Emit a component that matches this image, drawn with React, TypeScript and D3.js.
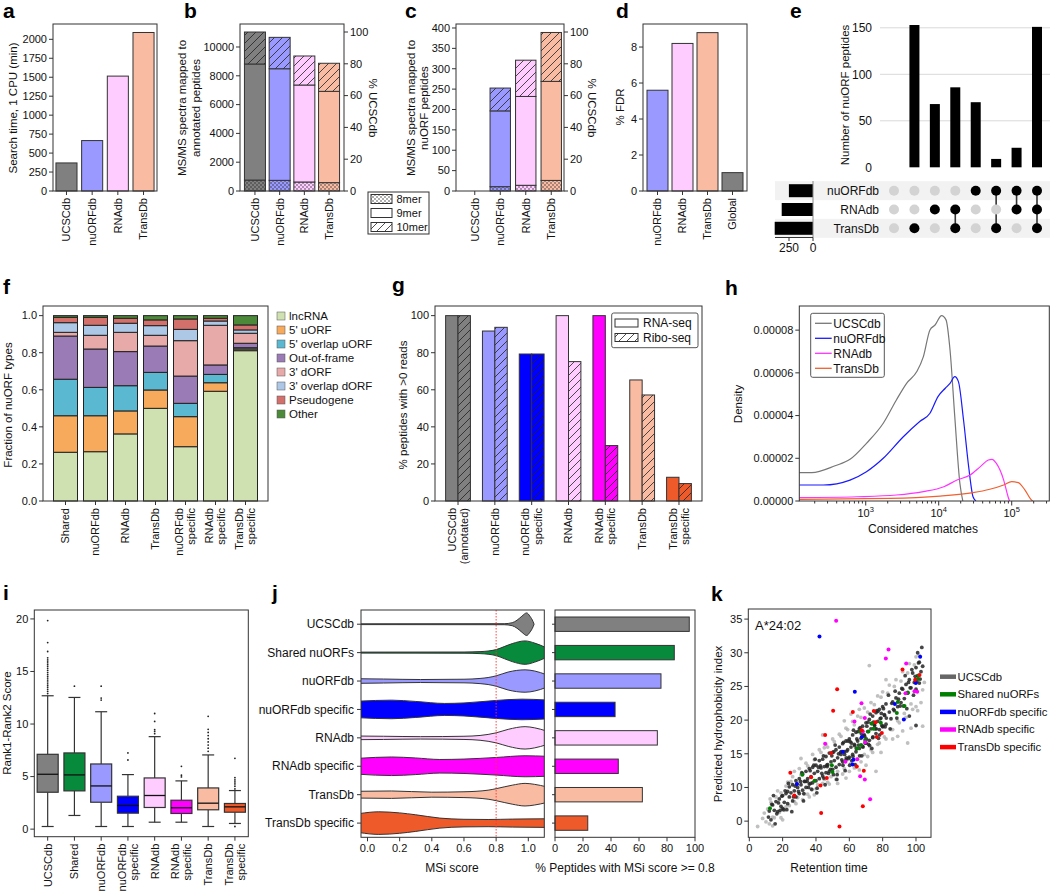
import React from 'react';
import * as d3 from 'd3';

const FONT = "'Liberation Sans', Arial, Helvetica, sans-serif";
const STK = '#333';

// ---------- shared categories / colours ----------
const dbs4 = ['UCSCdb', 'nuORFdb', 'RNAdb', 'TransDb'];
const dbColors4 = ['#808080', '#9999ff', '#ffccff', '#f9bca3'];

// ---------- panel a ----------
const searchTime = [370, 665, 1515, 2090];
const aTicks = [0, 250, 500, 750, 1000, 1250, 1500, 1750, 2000];

// ---------- panel b ----------
const bMer8 = [760, 740, 625, 580];
const bMer9 = [8060, 7750, 6735, 6340];
const bMer10 = [2220, 2180, 2015, 1950];
const bTicks = [0, 2000, 4000, 6000, 8000, 10000];
const pctTicks = [0, 20, 40, 60, 80, 100];

// ---------- panel c ----------
const cMer8 = [0, 10.6, 14, 26];
const cMer9 = [0, 186, 218, 243];
const cMer10 = [0, 56, 89, 120];
const cTicks = [0, 50, 100, 150, 200, 250, 300, 350, 400];

// ---------- panel d ----------
const dCats = ['nuORFdb', 'RNAdb', 'TransDb', 'Global'];
const dFdr = [5.6, 8.2, 8.8, 1.02];
const dColors = ['#9999ff', '#ffccff', '#f9bca3', '#808080'];
const dTicks = [0, 2, 4, 6, 8];

// ---------- panel e ----------
const eSets = ['nuORFdb', 'RNAdb', 'TransDb'];
const eSetSizes = [251, 326, 399];
const eCounts = [0, 153, 68, 86, 70, 9, 21, 151];
const eMembership = [
  [0, 0, 0], [0, 0, 1], [0, 1, 0], [0, 1, 1],
  [1, 0, 0], [1, 0, 1], [1, 1, 0], [1, 1, 1],
];
const eTicks = [0, 50, 100, 150];
const eSizeTicks = [250, 0];

// ---------- panel f ----------
const fCats = ['Shared', 'nuORFdb', 'RNAdb', 'TransDb', 'nuORFdb\nspecific', 'RNAdb\nspecific', 'TransDb\nspecific'];
const fTypes = ['lncRNA', "5' uORF", "5' overlap uORF", 'Out-of-frame', "3' dORF", "3' overlap dORF", 'Pseudogene', 'Other'];
const fTypeColors = ['#cfe1b0', '#f7aa5c', '#5ab9d0', '#9a7bb5', '#e8a9a9', '#adc8e6', '#d4706c', '#4c8a3a'];
const fLnc = [0.263, 0.266, 0.362, 0.5, 0.293, 0.592, 0.811];
const fUorf = [0.197, 0.194, 0.124, 0.099, 0.162, 0.046, 0.009];
const fOvUorf = [0.197, 0.153, 0.136, 0.095, 0.072, 0.045, 0.007];
const fOof = [0.233, 0.207, 0.184, 0.142, 0.147, 0.051, 0.024];
const fDorf = [0.02, 0.074, 0.104, 0.058, 0.191, 0.214, 0.054];
const fOvDorf = [0.052, 0.054, 0.049, 0.052, 0.061, 0.023, 0.018];
const fPseudo = [0.029, 0.043, 0.027, 0.031, 0.056, 0.015, 0.027];
const fOther = [0.009, 0.009, 0.014, 0.023, 0.018, 0.014, 0.05];
const fTicks = [0, 0.2, 0.4, 0.6, 0.8, 1.0];

// ---------- panel g ----------
const gCats = ['UCSCdb\n(annotated)', 'nuORFdb', 'nuORFdb\nspecific', 'RNAdb', 'RNAdb\nspecific', 'TransDb', 'TransDb\nspecific'];
const gRna = [100, 91.7, 79.3, 100, 100, 65.3, 12.8];
const gRibo = [100, 93.7, 79.3, 75.2, 29.9, 57.2, 9.4];
const gColors = ['#808080', '#9999ff', '#0000ff', '#ffccff', '#ff00ff', '#f9bca3', '#ef5a2a'];
const gTicks = [0, 20, 40, 60, 80, 100];

// ---------- panel h (log10 matches, density x 1e-5) ----------
const hNames = ['UCSCdb', 'nuORFdb', 'RNAdb', 'TransDb'];
const hColors = ['#777777', '#1a1aff', '#ff33ff', '#f06030'];
const hUcscLog = [2.09, 2.26, 2.58, 2.785, 3.01, 3.24, 3.42, 3.56, 3.70, 3.79, 3.88, 3.95, 4.04, 4.10, 4.155, 4.22, 4.29, 4.33];
const hUcscDen = [1.33, 1.33, 1.65, 1.95, 2.70, 3.64, 4.73, 5.51, 6.06, 6.76, 8.01, 8.24, 8.68, 8.48, 7.07, 3.95, 0.83, 0.0];
const hNuorfLog = [2.09, 2.42, 2.785, 3.01, 3.24, 3.515, 3.74, 3.88, 3.99, 4.09, 4.155, 4.22, 4.27, 4.34, 4.41, 4.47, 4.51];
const hNuorfDen = [0.75, 0.75, 0.98, 1.37, 2.0, 3.01, 3.72, 4.11, 4.89, 5.28, 5.51, 5.82, 5.59, 3.79, 1.61, 0.2, 0.0];
const hRnaLog = [2.09, 2.88, 3.42, 3.79, 4.07, 4.25, 4.43, 4.57, 4.68, 4.73, 4.79, 4.89, 4.95, 4.97];
const hRnaDen = [0.16, 0.2, 0.28, 0.44, 0.67, 0.98, 1.22, 1.61, 1.92, 1.95, 1.76, 0.98, 0.2, 0.0];
const hTransLog = [2.09, 3.33, 4.02, 4.47, 4.70, 4.89, 5.0, 5.09, 5.18, 5.27, 5.29];
const hTransDen = [0.08, 0.12, 0.23, 0.39, 0.55, 0.75, 0.91, 0.86, 0.52, 0.05, 0.0];
const hTicks = [0, 2, 4, 6, 8];
const hMajor = [1e3, 1e4, 1e5];
const hMajorLabels = ['3', '4', '5'];

// ---------- panel i ----------
const iCats = ['UCSCdb', 'Shared', 'nuORFdb', 'nuORFdb\nspecific', 'RNAdb', 'RNAdb\nspecific', 'TransDb', 'TransDb\nspecific'];
const iColors = ['#808080', '#088a3c', '#9999ff', '#0000ff', '#ffccff', '#ff00ff', '#f9bca3', '#ef5a2a'];
const iLow = [0.25, 1.3, 0.25, 0.25, 0.66, 0.66, 0.25, 0.54];
const iQ1 = [3.51, 3.64, 2.56, 1.52, 2.06, 1.49, 1.84, 1.61];
const iMed = [5.22, 5.16, 4.11, 2.25, 3.2, 2.03, 2.47, 2.12];
const iQ3 = [7.12, 7.25, 6.2, 3.13, 4.87, 2.75, 3.92, 2.44];
const iHigh = [12.69, 12.53, 11.17, 5.19, 8.8, 4.59, 7.06, 3.67];
const iOutliers = [
  [12.9, 13.1, 13.3, 13.5, 13.7, 13.9, 14.1, 14.3, 14.5, 14.7, 14.9, 15.1, 15.3, 15.5, 15.7, 15.9, 16.1, 16.3, 16.9, 17.75, 19.84],
  [13.6],
  [12.28, 12.47, 13.6],
  [6.58, 7.25],
  [9.08, 9.3, 9.46, 10.25, 11.0],
  [4.97, 5.13, 5.98],
  [7.4, 7.7, 8.0, 8.3, 8.6, 8.9, 9.2, 9.5, 10.73],
  [0.25, 3.83, 4.08, 4.3, 4.49, 4.68, 4.9, 6.74],
];
const iTicks = [0, 5, 10, 15, 20];

// ---------- panel j ----------
const jCats = ['UCSCdb', 'Shared nuORFs', 'nuORFdb', 'nuORFdb specific', 'RNAdb', 'RNAdb specific', 'TransDb', 'TransDb specific'];
const jPct = [95.9, 85.2, 75.7, 42.9, 73.1, 45.2, 62.4, 23.4];
// violin outlines: [MSi score, half-width density]
const vUcsc = [[-0.05, 0.4], [0.85, 0.5], [0.9, 1.5], [0.93, 4], [0.96, 8], [0.99, 11.3], [1.01, 8], [1.03, 2.5], [1.036, 0]];
const vShared = [[-0.05, 0.5], [0.6, 0.6], [0.7, 1], [0.75, 1.6], [0.8, 3], [0.85, 6], [0.9, 9], [0.98, 11.7], [1.04, 9.5], [1.11, 5]];
const vNuorf = [[-0.05, 2.3], [0.1, 2], [0.33, 1.5], [0.6, 1.8], [0.7, 2.6], [0.75, 3.5], [0.8, 5.2], [0.875, 9], [0.98, 11.2], [1.04, 10], [1.11, 6.5]];
const vNuorfS = [[-0.05, 8.3], [0.15, 9.3], [0.3, 8], [0.48, 6], [0.6, 6.5], [0.8, 9], [0.96, 10.3], [1.11, 9.5]];
const vRna = [[-0.05, 1.8], [0.1, 1.6], [0.33, 1.2], [0.6, 1.6], [0.7, 2.4], [0.8, 5], [0.875, 8.5], [0.98, 11.2], [1.04, 10], [1.11, 7]];
const vRnaS = [[-0.05, 8], [0.15, 9.3], [0.3, 8.3], [0.45, 6.8], [0.6, 7.2], [0.8, 8.8], [0.98, 10.5], [1.11, 10]];
const vTrans = [[-0.05, 3.4], [0.15, 3.7], [0.4, 2.5], [0.6, 2.9], [0.75, 4.5], [0.8, 6], [0.9, 9.5], [0.98, 11.3], [1.04, 10.3], [1.11, 8]];
const vTransS = [[-0.05, 9.5], [0.07, 11.3], [0.2, 10.2], [0.3, 8.3], [0.45, 5], [0.6, 3.8], [0.75, 3.6], [0.9, 4], [1.11, 4.3]];
const jViolins = [vUcsc, vShared, vNuorf, vNuorfS, vRna, vRnaS, vTrans, vTransS];
const jXTicks = [0, 0.2, 0.4, 0.6, 0.8, 1.0];
const jPTicks = [0, 20, 40, 60, 80, 100];

// ---------- panel k ----------
const kNames = ['UCSCdb', 'Shared nuORFs', 'nuORFdb specific', 'RNAdb specific', 'TransDb specific'];
const kColors = ['#666666', '#008000', '#0000ff', '#ff00ff', '#ff0000'];
const kDark = [[12, 6.5], [13, 5.2], [14, 7.4], [15, 6.6], [16, 7.9], [17, 6.4], [18, 8.3], [19, 7.2], [20, 6.9], [20, 8.8], [21, 7.8], [22, 9.1], [23, 7.6], [24, 8.6], [24, 10.1], [25, 9.2], [26, 8.0], [26, 10.4], [27, 9.5], [28, 8.6], [28, 11.0], [29, 10.0], [30, 9.1], [30, 11.3], [31, 10.4], [32, 9.6], [32, 12.0], [33, 10.9], [34, 10.0], [34, 12.4], [35, 11.3], [36, 10.5], [36, 12.8], [37, 11.6], [38, 10.7], [38, 13.0], [39, 12.1], [40, 11.0], [40, 13.3], [41, 12.4], [42, 11.3], [42, 14.0], [43, 12.9], [44, 11.7], [44, 14.2], [45, 13.1], [46, 12.2], [46, 14.6], [47, 13.4], [48, 12.4], [48, 15.1], [49, 13.8], [50, 12.7], [50, 15.2], [51, 14.0], [52, 13.0], [52, 15.6], [53, 14.4], [54, 13.4], [54, 16.0], [55, 14.9], [56, 13.8], [56, 16.5], [57, 15.3], [58, 14.1], [58, 16.9], [59, 15.6], [60, 14.5], [60, 17.2], [61, 16.0], [62, 14.9], [62, 17.8], [63, 16.4], [64, 15.3], [64, 18.2], [65, 16.9], [66, 15.8], [66, 18.7], [67, 17.3], [68, 16.1], [68, 19.1], [69, 17.8], [70, 16.6], [70, 19.6], [71, 18.3], [72, 17.0], [72, 20.1], [73, 18.7], [74, 17.4], [74, 20.6], [75, 19.3], [76, 18.0], [76, 21.1], [77, 19.8], [78, 18.6], [78, 21.6], [79, 20.3], [80, 19.0], [80, 22.0], [81, 20.8], [82, 19.4], [82, 22.4], [84, 21.2], [85, 20.2], [86, 22.7], [87, 21.4], [88, 23.3], [89, 22.0], [90, 24.0], [91, 22.6], [92, 24.6], [93, 23.2], [94, 25.3], [95, 24.0], [96, 26.0], [97, 24.8], [98, 27.0], [99, 25.6], [100, 27.8], [100, 24.6], [101, 26.6], [102, 28.6], [102, 25.5], [103, 27.2], [101, 30.0], [104, 28.0], [100, 19.2], [96, 20.6]];
const kDark2 = [[14.5, 8.8], [15.5, 4.6], [17.5, 7.7], [18.5, 6.6], [21.5, 9.5], [22.5, 6.7], [23.5, 10.6], [25.5, 6.4], [27.5, 10.2], [29.5, 9.4], [31.5, 12.2], [32.5, 8.0], [33.5, 10.9], [35.5, 10.0], [36.5, 12.5], [37.5, 9.7], [39.5, 14.2], [40.5, 9.2], [41.5, 13.0], [43.5, 12.1], [44.5, 14.7], [45.5, 10.4], [46.5, 13.3], [47.5, 12.1], [49.5, 14.7], [50.5, 11.9], [51.5, 16.3], [52.5, 11.2], [53.5, 15.0], [55.5, 14.1], [56.5, 16.7], [57.5, 12.5], [58.5, 15.4], [59.5, 14.3], [60.5, 16.8], [61.5, 14.0], [62.5, 18.5], [63.5, 13.4], [64.5, 17.2], [65.5, 16.3], [66.5, 18.9], [67.5, 14.7], [68.5, 17.7], [69.5, 16.6], [70.5, 19.1], [71.5, 16.4], [72.5, 20.9], [73.5, 15.8], [74.5, 19.7], [75.5, 18.7], [76.5, 21.4], [77.5, 17.3], [78.5, 20.2], [79.5, 19.2], [80.5, 21.7], [81.5, 19.0], [83.5, 23.7], [84.5, 18.7], [85.5, 22.5], [86.5, 21.6], [87.5, 24.3], [88.5, 20.3], [89.5, 23.1], [90.5, 22.1], [91.5, 24.7], [92.5, 22.1], [93.5, 26.6], [94.5, 21.7], [95.5, 25.6], [96.5, 24.8], [97.5, 27.5], [98.5, 23.7], [99.5, 26.5], [100.5, 25.7], [101.5, 28.5], [102.5, 26.1], [103.5, 30.8], [55.2, 15.3], [56.2, 13.3], [57.2, 14.9], [58.2, 14.4], [59.2, 16.9], [60.2, 13.3], [61.2, 16.6], [62.2, 14.6], [63.2, 16.2], [64.2, 15.8], [65.2, 18.3], [66.2, 14.7], [67.2, 18.0], [68.2, 16.0], [69.2, 17.6], [70.2, 17.2], [71.2, 19.7], [72.2, 16.2], [73.2, 19.5], [74.2, 17.5], [75.2, 19.2], [76.2, 18.7], [77.2, 21.3], [78.2, 17.8], [79.2, 21.0], [80.2, 19.1], [81.2, 20.7], [82.2, 20.3], [30.7, 10.9], [32.7, 9.1], [34.7, 10.9], [36.7, 10.6], [38.7, 13.3], [40.7, 9.9], [42.7, 13.2], [44.7, 11.4], [46.7, 13.1], [48.7, 12.7], [50.7, 15.3], [52.7, 11.9], [54.7, 15.2], [11.5, 5.6], [13.5, 7.5], [16.5, 6.1], [19.5, 8.7], [20.5, 6.7], [23.0, 9.4], [26.5, 8.6], [28.5, 10.5]];
const kLight = [[5, 4.2], [8, 5.4], [10, 4.9], [11, 6.8], [12, 4.6], [13, 7.8], [15, 5.5], [16, 8.6], [18, 6.3], [19, 9.2], [21, 6.6], [22, 10.2], [24, 7.3], [25, 10.9], [27, 7.9], [27, 12.4], [29, 8.5], [31, 14.3], [31, 11.9], [33, 9.0], [35, 13.2], [37, 9.8], [39, 14.1], [41, 10.4], [43, 15.2], [45, 11.2], [47, 16.0], [49, 11.6], [51, 16.8], [53, 12.4], [55, 17.6], [57, 12.8], [59, 18.6], [61, 13.6], [63, 19.3], [63, 12.9], [65, 14.2], [67, 20.4], [69, 14.9], [71, 21.2], [72, 28.1], [73, 15.6], [75, 22.3], [76, 12.4], [77, 16.4], [79, 23.4], [81, 17.5], [83, 24.0], [85, 18.6], [87, 25.0], [89, 19.9], [91, 25.8], [93, 21.0], [95, 16.6], [95, 27.0], [97, 22.4], [99, 28.2], [100, 22.0], [102, 29.6], [104, 19.1], [104, 24.5], [58, 11.4], [48, 10.5], [36, 8.6], [66, 21.6], [86, 17.2], [92, 18.4], [44, 17.8], [20, 5.2], [14, 4.3], [82, 26.0], [70, 13.3]];
const kLight2 = [[9, 6.2], [12.5, 8.3], [14, 5.6], [17, 9.5], [19, 5.5], [22, 7.1], [23, 10.8], [26, 11.6], [28, 7.6], [30, 12.8], [32, 8.2], [34, 13.6], [35, 9.0], [38, 14.9], [40, 9.8], [42, 15.6], [44, 10.6], [46, 16.4], [47, 10.8], [50, 17.2], [52, 11.2], [54, 17.9], [56, 12.0], [58, 18.8], [60, 12.4], [62, 19.8], [64, 13.0], [65, 20.6], [67, 13.8], [69, 21.8], [71, 14.6], [73, 22.6], [74, 15.2], [77, 23.6], [78, 16.6], [80, 24.2], [82, 17.2], [84, 25.2], [86, 18.6], [88, 26.0], [90, 19.6], [92, 27.2], [94, 20.4], [96, 28.4], [98, 21.6], [100, 29.4], [103, 22.6], [105, 25.6], [101, 21.4], [97, 18.8], [61, 20.9], [66, 12.6], [79, 15.2], [89, 17.6], [57, 19.9], [53, 10.6], [45, 15.9], [39, 8.9]];
const kGreen = [[12.4, 6.9], [31.8, 11.9], [39.1, 11.0], [49.9, 12.3], [67.1, 16.3], [64.7, 15.8], [69.5, 17.05], [71.5, 18.3], [73.5, 19.5], [78.9, 19.6], [89.1, 22.7], [93.1, 22.1], [88.5, 21.05], [95.1, 24.1], [101.5, 26.6], [101.1, 26.1], [49.5, 13.3], [66.7, 18.3], [74.5, 18.7]];
const kBlue = [[42.1, 32.4], [102.5, 29.4], [63.3, 24.2], [87.3, 22.4], [92.7, 20.1], [56.1, 15.3], [62.5, 14.1], [61.9, 13.4], [28.6, 10.5], [67.5, 17.5], [99.9, 25.5]];
const kMagenta = [[52.1, 34.75], [83.5, 30.5], [81.9, 29.16], [94.1, 28.4], [67.3, 22.5], [69.3, 20.3], [63.1, 19.8], [45.5, 16.5], [69.5, 16.7], [57.7, 13.83], [64.7, 14.2], [66.5, 11.66], [69.3, 11.2], [72.5, 8.24], [93.7, 24.0], [99.1, 24.3], [100.7, 24.2], [68.1, 18.3]];
const kRed = [[91.9, 27.5], [52.7, 24.6], [50.3, 21.4], [62.1, 21.2], [45.5, 17.8], [74.7, 21.35], [67.5, 18.5], [79.5, 18.1], [76.5, 17.5], [49.1, 15.1], [24.6, 12.2], [37.1, 11.5], [42.7, 10.3], [46.5, 11.4], [27.0, 8.8], [68.1, 7.2], [43.1, 6.2], [54.1, 4.2], [64.5, 13.1], [68.7, 12.5], [102.1, 26.7], [99.5, 26.0], [75.7, 19.7]];
const kXTicks = [0, 20, 40, 60, 80, 100];
const kYTicks = [5, 10, 15, 20, 25, 30, 35];
const kYTickLabels = ['0', '10', '15', '20', '25', '30', '35'];

// ================= helpers =================
const fs = 11;

function Frame({ l, r, t, b }: any) {
  return <rect x={l} y={t} width={r - l} height={b - t} fill="none" stroke={STK} strokeWidth={1} />;
}

function YTicks({ scale, ticks, x, side = 'left', fmt, labels = true, len = 4 }: any) {
  return (
    <g>
      {ticks.map((t: number, i: number) => {
        const y = scale(t);
        const x2 = side === 'left' ? x - len : x + len;
        return (
          <g key={i}>
            <line x1={x} x2={x2} y1={y} y2={y} stroke={STK} />
            {labels && (
              <text x={side === 'left' ? x2 - 2 : x2 + 2} y={y} dy="0.35em" fontSize={fs}
                textAnchor={side === 'left' ? 'end' : 'start'} fill="#111">
                {fmt ? fmt(t, i) : String(t)}
              </text>
            )}
          </g>
        );
      })}
    </g>
  );
}

function XTicks({ scale, ticks, y, fmt, len = 4, dy = 14 }: any) {
  return (
    <g>
      {ticks.map((t: number, i: number) => {
        const x = scale(t);
        return (
          <g key={i}>
            <line x1={x} x2={x} y1={y} y2={y + len} stroke={STK} />
            <text x={x} y={y + dy} fontSize={fs} textAnchor="middle" fill="#111">{fmt ? fmt(t, i) : String(t)}</text>
          </g>
        );
      })}
    </g>
  );
}

function RotTick({ x, y, text }: any) {
  const lines = String(text).split('\n');
  const n = lines.length;
  return (
    <text transform={`translate(${x},${y}) rotate(-90)`} textAnchor="end" fontSize={fs} fill="#111">
      {lines.map((ln, i) => (
        <tspan key={i} x={0} dy={i === 0 ? `${(0.35 - (n - 1) * 0.55).toFixed(2)}em` : '1.1em'}>{ln}</tspan>
      ))}
    </text>
  );
}

function CatAxis({ cats, pos, y }: any) {
  return (
    <g>
      {cats.map((c: string, i: number) => (
        <g key={i}>
          <line x1={pos[i]} x2={pos[i]} y1={y} y2={y + 4} stroke={STK} />
          <RotTick x={pos[i]} y={y + 7} text={c} />
        </g>
      ))}
    </g>
  );
}

function VLabel({ x, y, lines, rot = -90 }: any) {
  const arr = Array.isArray(lines) ? lines : [lines];
  const n = arr.length;
  return (
    <text transform={`translate(${x},${y}) rotate(${rot})`} textAnchor="middle" fontSize={fs + 0.5} fill="#111">
      {arr.map((ln: string, i: number) => (
        <tspan key={i} x={0} dy={i === 0 ? `${(0.35 - (n - 1) * 0.6).toFixed(2)}em` : '1.2em'}>{ln}</tspan>
      ))}
    </text>
  );
}

function Letter({ x, y, t }: any) {
  return <text x={x} y={y} fontSize={21} fontWeight="bold" fill="#000">{t}</text>;
}

const patKeys = ['gray', 'nuorf', 'rna', 'trans', 'white', 'nuorfS', 'rnaS', 'transS'];
const patFills = ['#808080', '#9999ff', '#ffccff', '#f9bca3', '#ffffff', '#0000ff', '#ff00ff', '#ef5a2a'];
const keyForColor = (c: string) => patKeys[patFills.indexOf(c)];

function Defs() {
  return (
    <defs>
      {patKeys.map((k, i) => (
        <g key={k}>
          <pattern id={`dots-${k}`} patternUnits="userSpaceOnUse" width={4} height={4}>
            <rect width={4} height={4} fill={patFills[i]} />
            <circle cx={1} cy={1} r={0.7} fill="#222" />
            <circle cx={3} cy={3} r={0.7} fill="#222" />
          </pattern>
          <pattern id={`hatch-${k}`} patternUnits="userSpaceOnUse" width={8} height={8}>
            <rect width={8} height={8} fill={patFills[i]} />
            <path d="M-2,2 L2,-2 M0,8 L8,0 M6,10 L10,6" stroke="#222" strokeWidth={0.8} />
          </pattern>
        </g>
      ))}
      <clipPath id="clipH"><rect x={799.3} y={306} width={250} height={195} /></clipPath>
      <clipPath id="clipJ"><rect x={361} y={610} width={183.3} height={227.3} /></clipPath>
    </defs>
  );
}

// ================= panels =================
function PanelA() {
  const L = 53, R = 157, T = 24, B = 191;
  const x = d3.scaleBand().domain(dbs4).range([L, R]).paddingInner(0.18).paddingOuter(0.115);
  const y = d3.scaleLinear().domain([0, 2202]).range([B, T]);
  return (
    <g>
      {dbs4.map((d, i) => (
        <rect key={d} x={x(d)} y={y(searchTime[i])} width={x.bandwidth()} height={B - y(searchTime[i])}
          fill={dbColors4[i]} stroke={STK} />
      ))}
      <Frame l={L} r={R} t={T} b={B} />
      <YTicks scale={y} ticks={aTicks} x={L} />
      <CatAxis cats={dbs4} pos={dbs4.map(d => (x(d) as number) + x.bandwidth() / 2)} y={B} />
      <VLabel x={12.5} y={108} lines="Search time, 1 CPU (min)" />
    </g>
  );
}

function StackedMer({ L, R, T, B, yMax, ticks, m8, m9, m10, rangeStart, pi, po, leftLines, leftX, rightX }: any) {
  const x = d3.scaleBand().domain(dbs4).range([rangeStart, R]).paddingInner(pi).paddingOuter(po);
  const y = d3.scaleLinear().domain([0, yMax]).range([B, T]);
  const yPct = d3.scaleLinear().domain([0, 100]).range([B, B - 159]);
  const bw = x.bandwidth();
  return (
    <g>
      {dbs4.map((d, i) => {
        const k = keyForColor(dbColors4[i]);
        const segs = [m8[i], m9[i], m10[i]];
        const fills = [`url(#dots-${k})`, dbColors4[i], `url(#hatch-${k})`];
        let acc = 0;
        return (
          <g key={d}>
            {segs.map((v: number, j: number) => {
              const y0 = y(acc), y1 = y(acc + v);
              acc += v;
              if (v <= 0) return null;
              return <rect key={j} x={x(d)} y={y1} width={bw} height={y0 - y1} fill={fills[j]} stroke={STK} />;
            })}
          </g>
        );
      })}
      <Frame l={L} r={R} t={T} b={B} />
      <YTicks scale={y} ticks={ticks} x={L} />
      <YTicks scale={yPct} ticks={pctTicks} x={R} side="right" />
      <CatAxis cats={dbs4} pos={dbs4.map(d => (x(d) as number) + bw / 2)} y={B} />
      <VLabel x={leftX} y={108} lines={leftLines} />
      <VLabel x={rightX} y={108} lines="% UCSCdb" rot={90} />
    </g>
  );
}

function MerLegend() {
  const items = [['8mer', 'url(#dots-white)'], ['9mer', '#ffffff'], ['10mer', 'url(#hatch-white)']];
  return (
    <g>
      <rect x={368} y={192} width={61} height={42} fill="#fff" stroke={STK} />
      {items.map((it, i) => (
        <g key={i}>
          <rect x={371} y={194.5 + i * 14} width={21} height={9} fill={it[1]} stroke={STK} />
          <text x={396.5} y={199 + i * 14} dy="0.35em" fontSize={fs} fill="#111">{it[0]}</text>
        </g>
      ))}
    </g>
  );
}

function PanelD() {
  const L = 643, R = 747, T = 24, B = 191;
  const x = d3.scaleBand().domain(dCats).range([L, R]).paddingInner(0.16).paddingOuter(0.16);
  const y = d3.scaleLinear().domain([0, 9.28]).range([B, T]);
  return (
    <g>
      {dCats.map((d, i) => (
        <rect key={d} x={x(d)} y={y(dFdr[i])} width={x.bandwidth()} height={B - y(dFdr[i])} fill={dColors[i]} stroke={STK} />
      ))}
      <Frame l={L} r={R} t={T} b={B} />
      <YTicks scale={y} ticks={dTicks} x={L} />
      <CatAxis cats={dCats} pos={dCats.map(d => (x(d) as number) + x.bandwidth() / 2)} y={B} />
      <VLabel x={620} y={107} lines="% FDR" />
    </g>
  );
}

function PanelE() {
  const base = 167.3;
  const y = d3.scaleLinear().domain([0, 160]).range([base, base - 148.8]);
  const cols = d3.range(eCounts.length);
  const x = d3.scalePoint<number>().domain(cols).range([894, 1037]);
  const rowY = d3.scalePoint<string>().domain(eSets).range([190.7, 228.3]);
  const sx = d3.scaleLinear().domain([0, 250]).range([813, 789]);
  return (
    <g>
      {[50, 100, 150].map(t => <line key={t} x1={880} x2={1050} y1={y(t)} y2={y(t)} stroke="#d9d9d9" />)}
      {eTicks.map(t => (
        <text key={t} x={872} y={y(t)} dy="0.35em" textAnchor="end" fontSize={fs + 1} fill="#111">{t}</text>
      ))}
      {cols.map(c => (
        <rect key={c} x={(x(c) as number) - 5} y={y(eCounts[c])} width={10} height={base - y(eCounts[c])} fill="#000" />
      ))}
      <VLabel x={845} y={95} lines="Number of nuORF peptides" />
      {eSets.map((s, i) => i % 2 === 0 && (
        <rect key={s} x={775} y={(rowY(s) as number) - 9.5} width={275} height={19} fill="#f2f2f2" />
      ))}
      {eSets.map((s, i) => (
        <g key={s}>
          <rect x={sx(eSetSizes[i])} y={(rowY(s) as number) - 6.5} width={813 - sx(eSetSizes[i])} height={13} fill="#000" />
          <text x={879} y={rowY(s)} dy="0.35em" textAnchor="end" fontSize={fs + 1} fill="#111">{s}</text>
        </g>
      ))}
      <line x1={813} x2={813} y1={181} y2={237.5} stroke="#888" />
      <line x1={775} x2={813} y1={237.5} y2={237.5} stroke={STK} />
      {eSizeTicks.map(t => (
        <g key={t}>
          <line x1={sx(t)} x2={sx(t)} y1={237.5} y2={241} stroke={STK} />
          <text x={sx(t)} y={252} textAnchor="middle" fontSize={fs + 1} fill="#111">{t}</text>
        </g>
      ))}
      {cols.map(c => {
        const mem = eMembership[c];
        const act = eSets.filter((_, i) => mem[i]);
        return (
          <g key={c}>
            {act.length > 1 && (
              <line x1={x(c)} x2={x(c)} y1={rowY(act[0])} y2={rowY(act[act.length - 1])} stroke="#333" strokeWidth={1.6} />
            )}
            {eSets.map((s, i) => (
              <circle key={s} cx={x(c)} cy={rowY(s)} r={5} fill={mem[i] ? '#000' : '#d3d3d3'} />
            ))}
          </g>
        );
      })}
    </g>
  );
}

function PanelF() {
  const L = 43, R = 268, T = 306, B = 501;
  const x = d3.scaleBand().domain(fCats).range([L, R]).paddingInner(0.2).paddingOuter(0.35);
  const y = d3.scaleLinear().domain([0, 1.052]).range([B, T]);
  const cols = [fLnc, fUorf, fOvUorf, fOof, fDorf, fOvDorf, fPseudo, fOther];
  const rows = fCats.map((c, i) => {
    const o: any = { cat: c };
    fTypes.forEach((t, j) => { o[t] = cols[j][i]; });
    return o;
  });
  const stack = d3.stack<any>().keys(fTypes)(rows);
  return (
    <g>
      {stack.map((layer, j) => (
        <g key={j}>
          {layer.map((s, i) => (
            <rect key={i} x={x(fCats[i])} y={y(s[1])} width={x.bandwidth()} height={Math.max(0, y(s[0]) - y(s[1]))}
              fill={fTypeColors[j]} stroke="#222" strokeWidth={1} />
          ))}
        </g>
      ))}
      <Frame l={L} r={R} t={T} b={B} />
      <YTicks scale={y} ticks={fTicks} x={L} fmt={(t: number) => t.toFixed(1)} />
      <CatAxis cats={fCats} pos={fCats.map(c => (x(c) as number) + x.bandwidth() / 2)} y={B} />
      <VLabel x={8} y={405} lines="Fraction of nuORF types" />
      {fTypes.map((t, j) => (
        <g key={t}>
          <rect x={277} y={312 + j * 14} width={8} height={8} fill={fTypeColors[j]} stroke="#555" strokeWidth={0.5} />
          <text x={289} y={316 + j * 14} dy="0.35em" fontSize={fs + 0.5} fill="#111">{t}</text>
        </g>
      ))}
    </g>
  );
}

function PanelG() {
  const L = 435, R = 702, T = 306, B = 501;
  const x = d3.scalePoint<string>().domain(gCats).range([L, R]).padding(0.625);
  const y = d3.scaleLinear().domain([0, 105.2]).range([B, T]);
  const bw = 12.4;
  return (
    <g>
      {gCats.map((c, i) => {
        const cx = x(c) as number;
        const k = keyForColor(gColors[i]);
        return (
          <g key={c}>
            <rect x={cx - bw} y={y(gRna[i])} width={bw} height={B - y(gRna[i])} fill={gColors[i]} stroke={STK} />
            <rect x={cx} y={y(gRibo[i])} width={bw} height={B - y(gRibo[i])} fill={`url(#hatch-${k})`} stroke={STK} />
          </g>
        );
      })}
      <Frame l={L} r={R} t={T} b={B} />
      <YTicks scale={y} ticks={gTicks} x={L} />
      <CatAxis cats={gCats} pos={gCats.map(c => x(c))} y={B} />
      <VLabel x={403} y={405} lines="% peptides with >0 reads" />
      <rect x={611.7} y={313} width={86.3} height={34.7} rx={2} fill="#fff" stroke="#555" />
      <rect x={615} y={319} width={23} height={8} fill="#fff" stroke={STK} />
      <text x={643} y={323} dy="0.35em" fontSize={fs + 1} fill="#111">RNA-seq</text>
      <rect x={615} y={333.5} width={23} height={8} fill="url(#hatch-white)" stroke={STK} />
      <text x={643} y={337.5} dy="0.35em" fontSize={fs + 1} fill="#111">Ribo-seq</text>
    </g>
  );
}

function PanelH() {
  const L = 799.3, R = 1049.3, T = 306, B = 501;
  const x = d3.scaleLog().domain([Math.pow(10, 2.09), Math.pow(10, 5.515)]).range([L, R]);
  const y = d3.scaleLinear().domain([0, 9.13]).range([B, T]);
  const series = [[hUcscLog, hUcscDen], [hNuorfLog, hNuorfDen], [hRnaLog, hRnaDen], [hTransLog, hTransDen]];
  const line = d3.line<number[]>().x(d => x(Math.pow(10, d[0]))).y(d => y(d[1])).curve(d3.curveMonotoneX);
  const minors: number[] = [];
  [100, 1000, 10000, 100000].forEach(dec => { for (let m = 2; m <= 9; m++) { const v = dec * m; if (v > x.domain()[0] && v < x.domain()[1]) minors.push(v); } });
  return (
    <g>
      <g clipPath="url(#clipH)">
        {series.map((s, i) => (
          <path key={i} d={line(s[0].map((v, j) => [v, s[1][j]])) as string} fill="none" stroke={hColors[i]} strokeWidth={1.2} />
        ))}
      </g>
      <Frame l={L} r={R} t={T} b={B} />
      <YTicks scale={y} ticks={hTicks} x={L} fmt={(t: number) => (t * 1e-5).toFixed(5)} />
      {minors.map((m, i) => <line key={i} x1={x(m)} x2={x(m)} y1={B} y2={B + 2.5} stroke={STK} />)}
      {hMajor.map((m, i) => (
        <g key={m}>
          <line x1={x(m)} x2={x(m)} y1={B} y2={B + 4.5} stroke={STK} />
          <text x={x(m)} y={B + 16} textAnchor="middle" fontSize={fs} fill="#111">10<tspan fontSize={7.5} dy="-5">{hMajorLabels[i]}</tspan></text>
        </g>
      ))}
      <text x={923} y={533} textAnchor="middle" fontSize={fs + 1} fill="#111">Considered matches</text>
      <VLabel x={738} y={404} lines="Density" />
      <rect x={810.7} y={313.3} width={73.6} height={64} rx={2} fill="#fff" stroke="#555" />
      {hNames.map((n, i) => (
        <g key={n}>
          <line x1={815} x2={831.7} y1={323.3 + i * 15} y2={323.3 + i * 15} stroke={hColors[i]} strokeWidth={1.3} />
          <text x={833.3} y={323.3 + i * 15} dy="0.35em" fontSize={fs + 1} fill="#111">{n}</text>
        </g>
      ))}
    </g>
  );
}

function PanelI() {
  const L = 34.3, R = 248.3, T = 610, B = 836.7;
  const x = d3.scalePoint<string>().domain(iCats).range([L, R]).padding(0.5);
  const y = d3.scaleLinear().domain([-0.72, 20.85]).range([B, T]);
  const bw = 21, cap = 12;
  return (
    <g>
      {iCats.map((c, i) => {
        const cx = x(c) as number;
        return (
          <g key={c}>
            <line x1={cx} x2={cx} y1={y(iLow[i])} y2={y(iQ1[i])} stroke={STK} strokeWidth={1.2} />
            <line x1={cx} x2={cx} y1={y(iQ3[i])} y2={y(iHigh[i])} stroke={STK} strokeWidth={1.2} />
            <line x1={cx - cap / 2} x2={cx + cap / 2} y1={y(iLow[i])} y2={y(iLow[i])} stroke={STK} strokeWidth={1.2} />
            <line x1={cx - cap / 2} x2={cx + cap / 2} y1={y(iHigh[i])} y2={y(iHigh[i])} stroke={STK} strokeWidth={1.2} />
            <rect x={cx - bw / 2} y={y(iQ3[i])} width={bw} height={y(iQ1[i]) - y(iQ3[i])} fill={iColors[i]} stroke={STK} strokeWidth={1.2} />
            <line x1={cx - bw / 2} x2={cx + bw / 2} y1={y(iMed[i])} y2={y(iMed[i])} stroke="#111" strokeWidth={1.3} />
            {iOutliers[i].map((o, j) => <circle key={j} cx={cx} cy={y(o)} r={0.9} fill="#222" />)}
          </g>
        );
      })}
      <Frame l={L} r={R} t={T} b={B} />
      <YTicks scale={y} ticks={iTicks} x={L} />
      <CatAxis cats={iCats} pos={iCats.map(c => x(c))} y={B} />
      <VLabel x={7} y={723} lines="Rank1-Rank2 Score" />
    </g>
  );
}

function PanelJ() {
  const L = 361, R = 544.3, T = 610, B = 837.3;
  const x = d3.scaleLinear().domain([0, 1]).range([367.5, 528.3]);
  const rows = d3.scalePoint<string>().domain(jCats).range([T, B]).padding(0.5);
  const w = d3.scaleLinear().domain([0, 12]).range([0, 12]);
  const L2 = 555, R2 = 695;
  const xp = d3.scaleLinear().domain([0, 100]).range([L2, R2]);
  return (
    <g>
      <g clipPath="url(#clipJ)">
        {jCats.map((c, i) => {
          const cy = rows(c) as number;
          const area = d3.area<number[]>().x(d => x(d[0])).y0(d => cy - w(d[1])).y1(d => cy + w(d[1])).curve(d3.curveMonotoneX);
          return <path key={c} d={area(jViolins[i]) as string} fill={iColors[i]} stroke={STK} strokeWidth={1} />;
        })}
      </g>
      <line x1={x(0.8)} x2={x(0.8)} y1={T} y2={B} stroke="#ff3333" strokeWidth={0.9} strokeDasharray="1.5,1.5" />
      <Frame l={L} r={R} t={T} b={B} />
      {jCats.map(c => (
        <g key={c}>
          <line x1={L - 4} x2={L} y1={rows(c)} y2={rows(c)} stroke={STK} />
          <text x={L - 7} y={rows(c)} dy="0.35em" textAnchor="end" fontSize={fs + 1} fill="#111">{c}</text>
        </g>
      ))}
      <XTicks scale={x} ticks={jXTicks} y={B} fmt={(t: number) => t.toFixed(1)} dy={15} />
      <text x={452} y={872} textAnchor="middle" fontSize={fs + 1} fill="#111">MSi score</text>

      {jCats.map((c, i) => (
        <rect key={c} x={L2} y={(rows(c) as number) - 7.2} width={xp(jPct[i]) - L2} height={14.4} fill={iColors[i]} stroke={STK} />
      ))}
      <Frame l={L2} r={R2} t={T} b={B} />
      {jCats.map(c => <line key={c} x1={L2 - 3} x2={L2} y1={rows(c)} y2={rows(c)} stroke={STK} />)}
      <XTicks scale={xp} ticks={jPTicks} y={B} dy={15} />
      <text x={625} y={872} textAnchor="middle" fontSize={fs + 1} fill="#111">% Peptides with MSi score &gt;= 0.8</text>
    </g>
  );
}

function PanelK() {
  const L = 748.3, R = 931, T = 609, B = 837.3;
  const x = d3.scaleLinear().domain([-0.6, 109]).range([L, R]);
  const y = d3.scaleLinear().domain([2.6, 36.5]).range([B, T]);
  const groups = [kGreen, kBlue, kMagenta, kRed];
  const gcol = [kColors[1], kColors[2], kColors[3], kColors[4]];
  const light = kLight.concat(kLight2);
  const dark = kDark.concat(kDark2);
  return (
    <g>
      {light.map((p, i) => <circle key={'l' + i} cx={x(p[0])} cy={y(p[1])} r={1.9} fill="#b0b0b0" opacity={0.8} />)}
      {dark.map((p, i) => <circle key={'d' + i} cx={x(p[0])} cy={y(p[1])} r={1.9} fill="#262626" opacity={0.85} />)}
      {groups.map((g, gi) => g.map((p, i) => <circle key={gi + '-' + i} cx={x(p[0])} cy={y(p[1])} r={2} fill={gcol[gi]} />))}
      <Frame l={L} r={R} t={T} b={B} />
      <YTicks scale={y} ticks={kYTicks} x={L} fmt={(t: number, i: number) => kYTickLabels[i]} />
      <XTicks scale={x} ticks={kXTicks} y={B} dy={15} />
      <text x={829} y={872} textAnchor="middle" fontSize={fs + 1} fill="#111">Retention time</text>
      <VLabel x={718} y={724} lines="Predicted hydrophobicity index" />
      <text x={755} y={630} fontSize={fs + 2} fill="#111">A*24:02</text>
      {kNames.map((n, i) => (
        <g key={n}>
          <line x1={940} x2={956} y1={676.7 + i * 17.6} y2={676.7 + i * 17.6} stroke={kColors[i]} strokeWidth={4.5} />
          <text x={957.5} y={676.7 + i * 17.6} dy="0.35em" fontSize={fs + 0.3} fill="#111">{n}</text>
        </g>
      ))}
    </g>
  );
}

export default function App() {
  return (
    <svg width={1050} height={894} viewBox="0 0 1050 894" fontFamily={FONT}
      style={{ position: 'absolute', left: 0, top: 0, background: '#fff' }}>
      <rect width={1050} height={894} fill="#fff" />
      <Defs />
      <Letter x={3} y={18} t="a" />
      <Letter x={184} y={18} t="b" />
      <Letter x={405} y={18} t="c" />
      <Letter x={616} y={18} t="d" />
      <Letter x={790} y={18} t="e" />
      <Letter x={3} y={294} t="f" />
      <Letter x={392} y={292} t="g" />
      <Letter x={725} y={295} t="h" />
      <Letter x={3} y={600} t="i" />
      <Letter x={272} y={600} t="j" />
      <Letter x={711} y={601} t="k" />
      <PanelA />
      <StackedMer L={240} R={344} T={24} B={191} yMax={11597} ticks={bTicks} m8={bMer8} m9={bMer9} m10={bMer10}
        rangeStart={240} pi={0.15} po={0.18} leftLines={['MS/MS spectra mapped to', 'annotated peptides']} leftX={189} rightX={373} />
      <MerLegend />
      <StackedMer L={456} R={564} T={24} B={191} yMax={409.8} ticks={cTicks} m8={cMer8} m9={cMer9} m10={cMer10}
        rangeStart={462} pi={0.2} po={0.1} leftLines={['MS/MS spectra mapped to', 'nuORF peptides']} leftX={417.5} rightX={591.7} />
      <PanelD />
      <PanelE />
      <PanelF />
      <PanelG />
      <PanelH />
      <PanelI />
      <PanelJ />
      <PanelK />
    </svg>
  );
}
